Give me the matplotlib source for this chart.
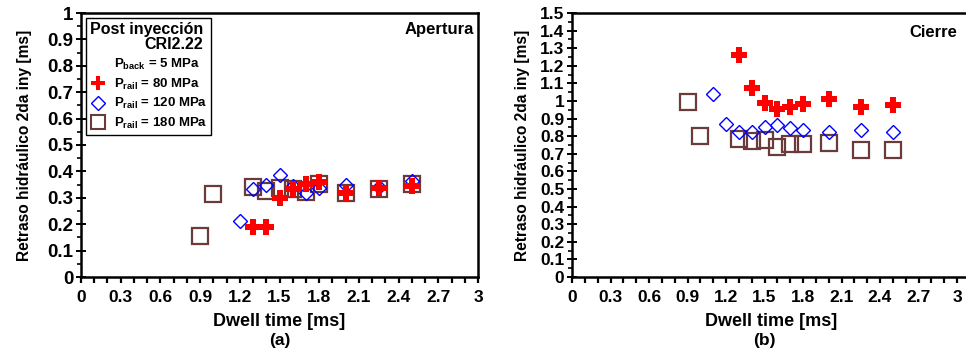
import matplotlib
matplotlib.use("Agg")
import matplotlib.pyplot as plt
from matplotlib.lines import Line2D
from matplotlib.ticker import MultipleLocator, FixedLocator, FormatStrFormatter
import numpy as np

plt.rcParams['font.family'] = ['Liberation Sans', 'DejaVu Sans']
plt.rcParams['font.weight'] = 'bold'
plt.rcParams['mathtext.fontset'] = 'custom'
plt.rcParams['mathtext.rm'] = 'Liberation Sans:bold'
plt.rcParams['mathtext.bf'] = 'Liberation Sans:bold'
plt.rcParams['mathtext.it'] = 'Liberation Sans:bold'

# ---- Data: (a) Apertura ----
a_x80 = [1.3, 1.4, 1.5, 1.6, 1.7, 1.8, 2.0, 2.25, 2.5]
a_y80 = [0.19, 0.19, 0.30, 0.333, 0.354, 0.359, 0.32, 0.337, 0.346]
a_x120 = [1.2, 1.3, 1.4, 1.5, 1.6, 1.7, 1.8, 2.0, 2.25, 2.5]
a_y120 = [0.213, 0.335, 0.35, 0.385, 0.346, 0.318, 0.337, 0.35, 0.34, 0.362]
a_x180 = [0.9, 1.0, 1.3, 1.4, 1.5, 1.6, 1.7, 1.8, 2.0, 2.25, 2.5]
a_y180 = [0.156, 0.314, 0.34, 0.325, 0.337, 0.335, 0.322, 0.354, 0.318, 0.333, 0.352]

# ---- Data: (b) Cierre ----
b_x80 = [1.3, 1.4, 1.5, 1.6, 1.7, 1.8, 2.0, 2.25, 2.5]
b_y80 = [1.262, 1.072, 0.99, 0.953, 0.968, 0.981, 1.013, 0.966, 0.975]
b_x120 = [1.1, 1.2, 1.3, 1.4, 1.5, 1.6, 1.7, 1.8, 2.0, 2.25, 2.5]
b_y120 = [1.042, 0.867, 0.823, 0.823, 0.852, 0.861, 0.848, 0.835, 0.823, 0.838, 0.823]
b_x180 = [0.9, 1.0, 1.3, 1.4, 1.5, 1.6, 1.7, 1.8, 2.0, 2.25, 2.5]
b_y180 = [0.994, 0.80, 0.785, 0.772, 0.778, 0.74, 0.753, 0.753, 0.759, 0.72, 0.72]

x_ticks = [0, 0.3, 0.6, 0.9, 1.2, 1.5, 1.8, 2.1, 2.4, 2.7, 3]
x_ticklabels = ['0', '0.3', '0.6', '0.9', '1.2', '1.5', '1.8', '2.1', '2.4', '2.7', '3']

RED = '#ff0000'
BLUE = '#0000ff'
BROWN = '#6b3a3a'

W, H = 966, 356
fig = plt.figure(figsize=(W / 100, H / 100), dpi=100)

axA = fig.add_axes([81 / W, 1 - 277 / H, (478 - 81) / W, (277 - 13) / H])
axB = fig.add_axes([572 / W, 1 - 277 / H, (3.1 / 3) * (957 - 572) / W, (277 - 13) / H])

def style(ax, ymax, xmax, ylabsize, ylabpad):
    ax.set_xlim(0, xmax)
    ax.set_ylim(0, ymax)
    ax.xaxis.set_major_locator(FixedLocator(x_ticks))
    ax.set_xticklabels(x_ticklabels)
    ax.xaxis.set_minor_locator(MultipleLocator(0.1))
    ax.yaxis.set_major_locator(MultipleLocator(0.1))
    ax.yaxis.set_minor_locator(MultipleLocator(0.05))
    ax.yaxis.set_major_formatter(FormatStrFormatter('%g'))
    ax.tick_params(axis='x', which='both', direction='out', length=4, width=1.6,
                   labelsize=12.5, pad=5)
    ax.tick_params(axis='y', which='major', direction='inout', length=7, width=1.4,
                   labelsize=ylabsize, pad=2)
    ax.tick_params(axis='y', which='minor', direction='out', length=3, width=1.2)
    for lab in ax.get_xticklabels() + ax.get_yticklabels():
        lab.set_fontweight('bold')
    for s in ax.spines.values():
        s.set_linewidth(1.8)
    ax.set_xlabel('Dwell time [ms]', fontsize=13, fontweight='bold', labelpad=6)
    ax.set_ylabel('Retraso hidráulico 2da iny [ms]', fontsize=11.2, fontweight='bold',
                  labelpad=ylabpad)

def plot_series(ax, x80, y80, x120, y120, x180, y180):
    ax.plot(x180, y180, linestyle='none', marker='s', markersize=11, markerfacecolor='none',
            markeredgecolor=BROWN, markeredgewidth=1.6, zorder=3)
    ax.plot(x120, y120, linestyle='none', marker='D', markersize=7.5, markerfacecolor='none',
            markeredgecolor=BLUE, markeredgewidth=1.0, zorder=4)
    ax.plot(x80, y80, linestyle='none', marker='P', markersize=11.5, color=RED,
            markeredgewidth=0, zorder=5)

style(axA, 1.0, 3.0, 13.5, 11)
style(axB, 1.5, 3.1, 12.5, 7)
axB.spines['right'].set_visible(False)

plot_series(axA, a_x80, a_y80, a_x120, a_y120, a_x180, a_y180)
plot_series(axB, b_x80, b_y80, b_x120, b_y120, b_x180, b_y180)

axA.text(0.99, 0.965, 'Apertura', transform=axA.transAxes, ha='right', va='top',
         fontsize=12, fontweight='bold')
axB.text(0.99 * 3.0 / 3.1 + 0.01, 0.955, 'Cierre', transform=axB.transAxes, ha='right', va='top',
         fontsize=12, fontweight='bold')

handles = [
    Line2D([], [], linestyle='none', marker='none'),
    Line2D([], [], linestyle='none', marker='P', markersize=10, color=RED, markeredgewidth=0),
    Line2D([], [], linestyle='none', marker='D', markersize=7, markerfacecolor='none',
           markeredgecolor=BLUE, markeredgewidth=1.0),
    Line2D([], [], linestyle='none', marker='s', markersize=10, markerfacecolor='none',
           markeredgecolor=BROWN, markeredgewidth=1.5),
]
labels = [r'$\mathbf{P_{back}}$ = 5 MPa', r'$\mathbf{P_{rail}}$ = 80 MPa',
          r'$\mathbf{P_{rail}}$ = 120 MPa', r'$\mathbf{P_{rail}}$ = 180 MPa']
leg = axA.legend(handles, labels, loc='upper left', bbox_to_anchor=(0.003, 0.995),
                 title='Post inyección\nCRI2.22', fontsize=9.5, title_fontsize=11.5,
                 frameon=True, fancybox=False, edgecolor='black', framealpha=1,
                 handlelength=1.2, handletextpad=0.6, borderpad=0.3, labelspacing=0.35,
                 borderaxespad=0.3)
leg.get_frame().set_linewidth(1.0)
leg.get_title().set_fontweight('bold')
leg.get_title().set_multialignment('right')
leg.get_title().set_linespacing(1.0)
leg._legend_box.align = 'left'
for t in leg.get_texts():
    t.set_fontweight('bold')

fig.text((81 + 478) / 2 / W, 1 - 341 / H, '(a)', ha='center', va='center',
         fontsize=12.5, fontweight='bold')
fig.text((572 + 957) / 2 / W, 1 - 341 / H, '(b)', ha='center', va='center',
         fontsize=12.5, fontweight='bold')

fig.savefig('out.png', dpi=100)
